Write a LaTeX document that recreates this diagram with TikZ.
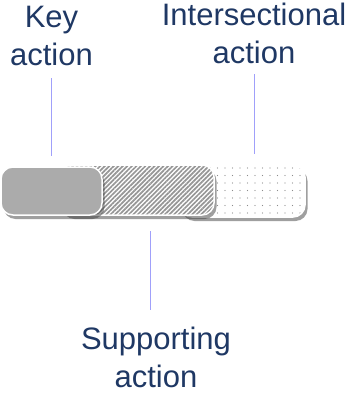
\documentclass[tikz,border=0pt]{standalone}
\usepackage{fontspec}
\setmainfont{Liberation Sans}
\usepackage{xcolor}
\usetikzlibrary{positioning, patterns.meta, shadows}
\definecolor{labelnavy}{RGB}{31,56,100}
\definecolor{leaderblue}{RGB}{160,160,250}
\definecolor{keygray}{RGB}{171,171,171}
\definecolor{stripegray}{RGB}{150,150,150}

\begin{document}
\begin{tikzpicture}[x=1pt, y=-1pt, bar/.style={draw=white, line width=1.5pt, rounded corners=12pt, drop shadow={shadow xshift=2.5pt, shadow yshift=-4pt, opacity=.5, fill=black!75}, preaction={fill=white}}, lbl/.style={align=center, text=labelnavy, font=\fontsize{31}{38}\selectfont, inner sep=0pt}, leader/.style={draw=leaderblue, line width=0.9pt}]
    \useasboundingbox (0,0) rectangle (352,393);
    \node[bar, pattern={Dots[distance=7.5pt, radius=0.6pt]}, pattern color=black!45, minimum width=125pt, minimum height=52pt] (inter) at (242.5,191) {};
    \node[bar, pattern={Lines[angle=45, distance=3.2pt, line width=1.7pt]}, pattern color=stripegray, minimum width=154pt, minimum height=50pt] (support) at (137,190) {};
    \node[bar, fill=keygray, minimum width=101pt, minimum height=48pt] (key) at (51.5,191) {};

    \node[lbl] (keylbl) [above=100pt of key] {Key\\action};
    \node[lbl] (interlbl) [above=100pt of inter, xshift=11.5pt] {Intersectional\\action};
    \node[lbl] (supportlbl) [below=111pt of support, xshift=19pt] {Supporting\\action};

    \path[leader] (keylbl.south) edge [shorten <=12pt, shorten >=10pt] (keylbl.south |- key.north)
          (interlbl.south) edge [shorten <=10pt, shorten >=10pt] (interlbl.south |- inter.north)
          ([xshift=-6pt]supportlbl.north) edge [shorten <=17pt, shorten >=15pt] ([xshift=-6pt]supportlbl.north |- support.south);
\end{tikzpicture}
\end{document}
